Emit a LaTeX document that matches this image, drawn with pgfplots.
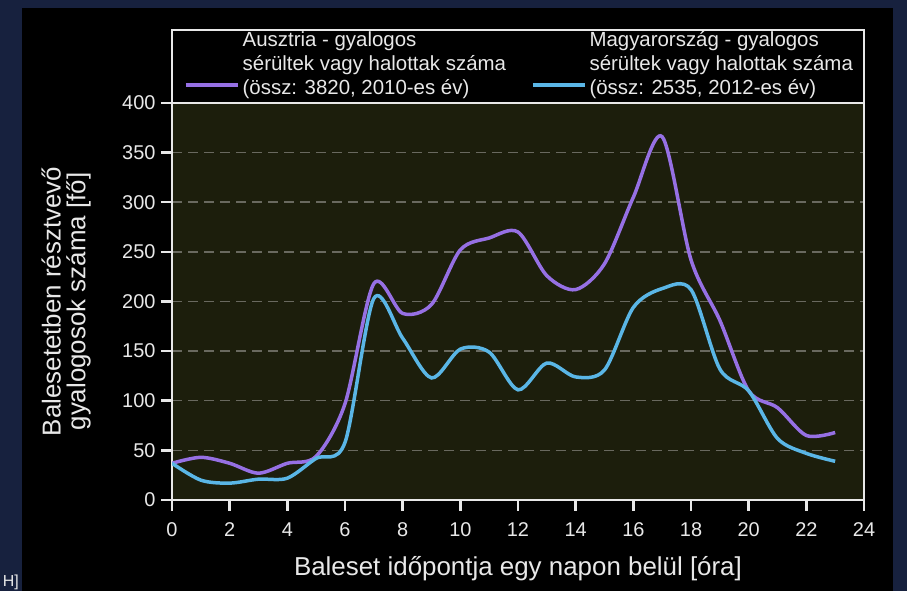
\documentclass[border=0pt]{standalone}
\usepackage{pgfplots}
\pgfplotsset{compat=1.18}
\usepackage{fontspec}
\setmainfont{Liberation Sans}
\definecolor{navy}{RGB}{23,33,62}
\definecolor{plotbg}{RGB}{28,30,12}
\definecolor{austria}{RGB}{150,112,228}
\definecolor{hungary}{RGB}{90,182,230}
\definecolor{txt}{RGB}{232,232,232}
\definecolor{gridc}{RGB}{105,105,95}
\pgfplotstableread{
h v
0 37
1 43
2 37
3 27
4 37
5 44
6 97
7 218
8 188
9 197
10 252
11 264
12 270
13 226
14 212
15 238
16 305
17 366
18 242
19 181
20 110
21 93
22 65
23 68
}\austriadata
\pgfplotstableread{
h v
0 37
1 20
2 17
3 21
4 22
5 42
6 58
7 203
8 163
9 123
10 152
11 149
12 111
13 138
14 124
15 131
16 194
17 213
18 212
19 132
20 110
21 62
22 47
23 39
}\hungarydata
\begin{document}
\begin{tikzpicture}
\useasboundingbox (0bp,0bp) rectangle (907bp,591bp);
\fill[navy] (0bp,0bp) rectangle (907bp,591bp);
\fill[black] (22bp,0bp) rectangle (893bp,583bp);
\node[txt, anchor=base east, inner sep=0pt, font=\fontsize{16}{18}\selectfont] at (19bp,5bp) {H]};
\begin{axis}[
  at={(172bp,91bp)}, anchor=south west,
  width=692bp, height=397bp, scale only axis,
  xmin=0, xmax=24, ymin=0, ymax=400,
  xtick={0,2,...,24}, ytick={0,50,...,400},
  tick pos=left,
  tick align=outside,
  axis background/.style={fill=plotbg},
  axis line style={txt, line width=2bp},
  major tick style={draw=txt, line width=2.5bp},
  major tick length=11bp,
  ymajorgrids,
  grid style={gridc, dash pattern=on 10bp off 6bp, line width=1.5bp},
  /pgf/number format/assume math mode=true,
  ticklabel style={txt, font=\fontsize{20}{22}\selectfont},
  xticklabel style={yshift=-8bp},
  yticklabel style={xshift=-2bp},
  xlabel={Baleset időpontja egy napon belül [óra]},
  ylabel={Balesetetben résztvevő\\gyalogosok száma [fő]},
  every axis x label/.style={at={(axis description cs:0.5,-0.1914)}, anchor=base, txt, font=\fontsize{26}{28}\selectfont},
  every axis y label/.style={at={(axis description cs:-0.153,0.5)}, anchor=center, rotate=90, align=center, txt, font=\fontsize{26}{25}\selectfont},
  legend columns=2,
  legend cell align=left,
  legend image code/.code={\draw[#1] (0bp,-21bp) -- (52bp,-21bp);},
  legend style={at={(axis description cs:0,1)}, anchor=south west, xshift=9bp, yshift=2bp,
    draw=none, fill=none, text=txt, font=\fontsize{20.5}{23.8}\selectfont,
    nodes={align=left, inner sep=3bp},
    /tikz/every even column/.append style={column sep=22bp}},
]
\addplot[austria, line width=3.5bp, smooth, tension=0.5] table[x=h, y=v] {\austriadata};
\addlegendentry{Ausztria - gyalogos\\sérültek vagy halottak száma\\(össz: 3820, 2010-es év)}
\addplot[hungary, line width=3.5bp, smooth, tension=0.5] table[x=h, y=v] {\hungarydata};
\addlegendentry{Magyarország - gyalogos\\sérültek vagy halottak száma\\(össz: 2535, 2012-es év)}
\end{axis}
\draw[txt, line width=2bp] (172bp,488bp) rectangle (864bp,561bp);
\foreach \i [evaluate=\i as \xx using 172+\i*57.666667] in {0,...,12}
  {\draw[txt, line width=2.5bp] (\xx bp,91bp) -- (\xx bp,80bp);}
\foreach \i [evaluate=\i as \yy using 91+\i*49.625] in {0,...,8}
  {\draw[txt, line width=2.5bp] (172bp,\yy bp) -- (161bp,\yy bp);}
\end{tikzpicture}
\end{document}
